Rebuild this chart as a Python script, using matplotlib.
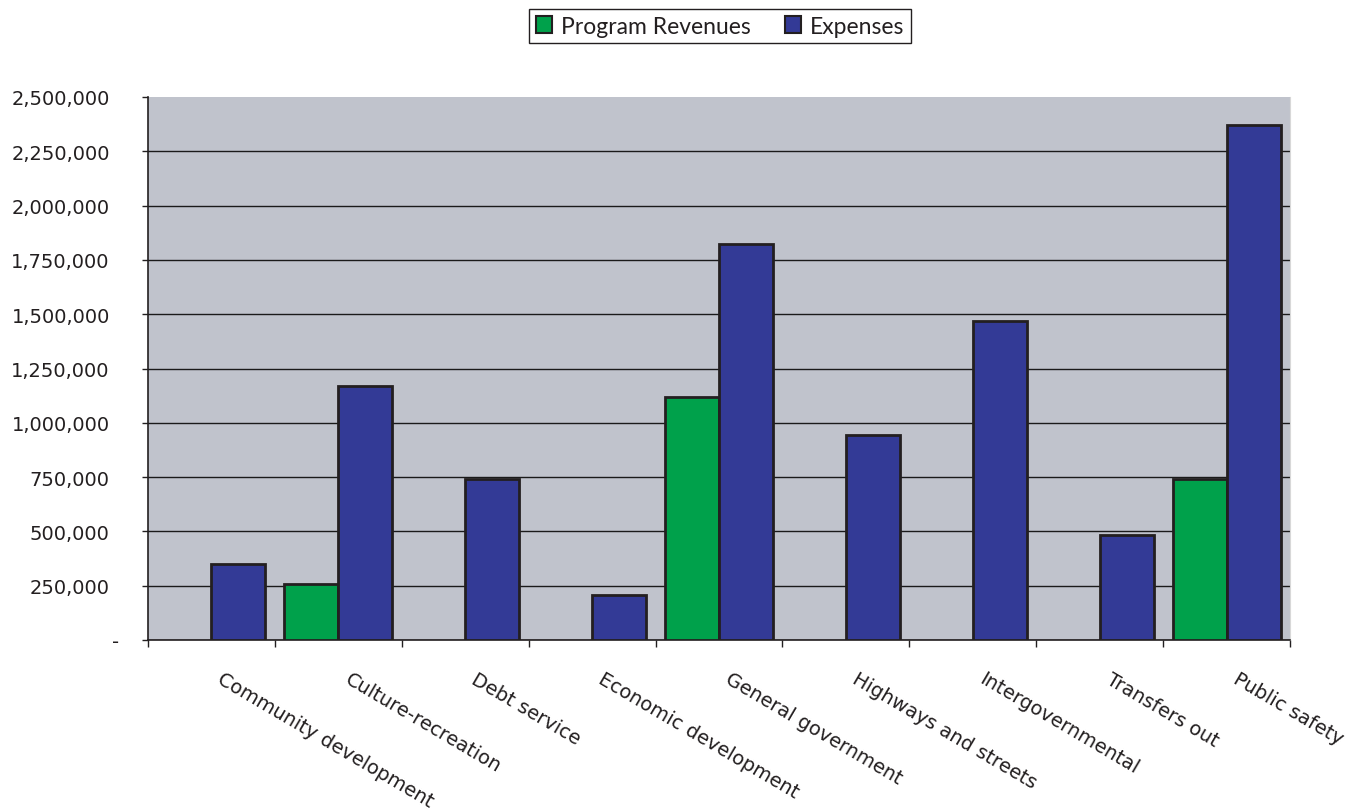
import matplotlib
matplotlib.use("Agg")
import matplotlib.pyplot as plt
import matplotlib.transforms as mtransforms
from matplotlib.ticker import FuncFormatter, MultipleLocator
from matplotlib.patches import Patch
import numpy as np

categories = [
    "Community development",
    "Culture-recreation",
    "Debt service",
    "Economic development",
    "General government",
    "Highways and streets",
    "Intergovernmental",
    "Transfers out",
    "Public safety",
]
program_revenues = [0, 258000, 0, 0, 1117000, 0, 0, 0, 742000]
expenses = [350000, 1170000, 743000, 206000, 1824000, 943000, 1469000, 484000, 2372000]
series_names = ["Program Revenues", "Expenses"]

GREEN = "#00A14B"
BLUE = "#333A96"
PLOT_BG = "#C0C3CC"
EDGE = "#231F20"
TEXT = "#231F20"

fig = plt.figure(figsize=(13.61, 8.12), dpi=100)
ax = fig.add_axes([148 / 1361, 1 - 641 / 812, (1290 - 148) / 1361, (641 - 98) / 812])
ax.set_facecolor(PLOT_BG)

x = np.arange(len(categories))
w = 0.4255
for xi, v in zip(x, program_revenues):
    if v > 0:
        ax.bar(xi - w / 2, v, width=w, color=GREEN, edgecolor=EDGE, linewidth=2.0, zorder=3)
for xi, v in zip(x, expenses):
    if v > 0:
        ax.bar(xi + w / 2, v, width=w, color=BLUE, edgecolor=EDGE, linewidth=2.0, zorder=3)

ax.set_xlim(-0.5, len(categories) - 0.5)
ax.set_ylim(0, 2500000)

# y axis
ax.yaxis.set_major_locator(MultipleLocator(250000))
ax.yaxis.set_major_formatter(FuncFormatter(lambda v, p: "-" if v == 0 else f"{int(v):,}"))
ax.yaxis.grid(True, color="#1a1a1a", linewidth=1.0, zorder=1)
ax.set_axisbelow(True)
ax.tick_params(axis="y", direction="out", length=4.5, width=1, color=EDGE,
               labelsize=14, labelcolor=TEXT, pad=23)
for lab in ax.get_yticklabels():
    lab.set_fontfamily("DejaVu Sans")

# x axis: ticks at category boundaries, labels drawn as rotated text
ax.set_xticks(np.arange(len(categories) + 1) - 0.5)
ax.set_xticklabels([])
ax.tick_params(axis="x", direction="out", length=5, width=1, color=EDGE)

ax.spines["top"].set_visible(False)
ax.spines["right"].set_color("#d8d8d8")
ax.spines["left"].set_color(EDGE)
ax.spines["bottom"].set_color(EDGE)
ax.spines["left"].set_linewidth(1.2)
ax.spines["bottom"].set_linewidth(1.2)

fig.canvas.draw()
# no gridline along the top edge of the plot area
for val, gl in zip(ax.get_yticks(), ax.yaxis.get_gridlines()):
    if val >= 2500000:
        gl.set_visible(False)
# the zero label sits a little further right
for lab in ax.get_yticklabels():
    if lab.get_text() == "-":
        lab.set_transform(lab.get_transform() + mtransforms.ScaledTranslation(0.09, 0, fig.dpi_scale_trans))

trans = mtransforms.blended_transform_factory(ax.transData, ax.transAxes)
for xi, name in zip(x, categories):
    ax.text(xi + 0.1, 0, name, transform=trans + mtransforms.ScaledTranslation(0, -0.29, fig.dpi_scale_trans),
            rotation=-30.5, rotation_mode="anchor", ha="left", va="top",
            fontsize=14, color=TEXT, family="DejaVu Sans")

handles = [Patch(facecolor=GREEN, edgecolor=EDGE, linewidth=1.5),
           Patch(facecolor=BLUE, edgecolor=EDGE, linewidth=1.5)]
leg = fig.legend(handles, series_names, loc="center", bbox_to_anchor=(720 / 1361, 1 - 27 / 812),
                 ncol=2, frameon=True, fancybox=False, edgecolor="#231F20", framealpha=1,
                 handlelength=0.7, handleheight=0.7, handletextpad=0.4, columnspacing=1.5,
                 borderpad=0.3, borderaxespad=0, prop={"family": "Lato", "size": 16.5})
leg.get_frame().set_linewidth(1.0)
for t in leg.get_texts():
    t.set_color(TEXT)

fig.savefig("out.png", dpi=100)
